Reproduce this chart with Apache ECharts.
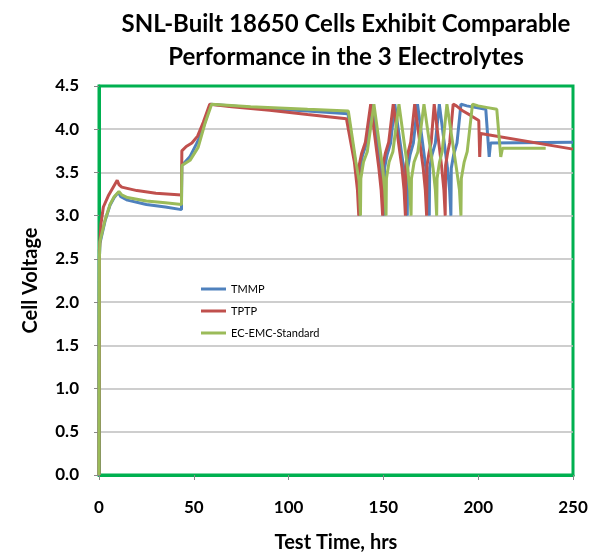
<!DOCTYPE html>
<html>
<head>
<meta charset="utf-8">
<title>SNL-Built 18650 Cells</title>
<script type="text/javascript" src="https://cdn.jsdelivr.net/npm/echarts@6/dist/echarts.min.js"></script>
<style>
	html, body { margin: 0; padding: 0; background: #fff; }
	#main { width: 596px; height: 555px; }
</style>
</head>
<body>
<div id="main"></div>
<script type="text/javascript">
	// series names, in legend order
	var seriesNames = [ 'TMMP', 'TPTP', 'EC-EMC-Standard' ];

	// [hours, volts]
	var tmmp = [
		[0, 0], [0.2, 2.5], [0.5, 2.68], [3.2, 2.94], [5.8, 3.12], [8, 3.21], [10.2, 3.27],
		[11.5, 3.22], [15, 3.18], [25, 3.13], [35, 3.10], [43.5, 3.07],
		[43.7, 3.58], [47.9, 3.68], [51.4, 3.83], [54, 3.95], [58.9, 4.29],
		[80, 4.25], [110, 4.21], [131.3, 4.18],
		[135.2, 3.62], [136.8, 3.30], [137.5, 3.0],
		[137.7, 3.55], [139.0, 3.70], [141.2, 3.84], [143.9, 4.29], [144.5, 4.29],
		[148.4, 3.55], [149.6, 3.30], [150.4, 3.0],
		[150.6, 3.55], [151.9, 3.70], [153.8, 3.84], [156.0, 4.29], [156.6, 4.29],
		[160.7, 3.55], [161.8, 3.30], [162.6, 3.0],
		[162.8, 3.55], [164.0, 3.70], [165.8, 3.84], [168.0, 4.29], [168.6, 4.29],
		[172.4, 3.55], [173.5, 3.30], [174.2, 3.0],
		[174.4, 3.55], [175.6, 3.70], [177.4, 3.84], [179.5, 4.29], [180.1, 4.29],
		[183.8, 3.55], [184.9, 3.30], [185.6, 3.0],
		[185.8, 3.55], [187.0, 3.70], [188.8, 3.84], [190.9, 4.29],
		[194, 4.27], [199, 4.25], [204, 4.23], [205.8, 3.68], [206.5, 3.84], [250, 3.85]
	];
	var tptp = [
		[0, 0], [0.2, 2.6], [1, 2.9], [2.3, 3.1], [4.9, 3.23], [7.5, 3.33], [9.6, 3.41],
		[10.5, 3.36], [12, 3.33], [20, 3.29], [30, 3.26], [43.5, 3.24],
		[43.7, 3.75], [46, 3.80], [49, 3.84], [52, 3.92], [55, 4.08], [58.4, 4.29],
		[70, 4.26], [90, 4.22], [110, 4.17], [130.5, 4.12],
		[134.7, 3.62], [136.3, 3.30], [137.0, 3.0],
		[137.2, 3.58], [138.5, 3.72], [140.5, 3.85], [143.3, 4.29], [143.9, 4.29],
		[147.6, 3.55], [148.8, 3.30], [149.6, 3.0],
		[149.8, 3.58], [151.0, 3.72], [152.8, 3.85], [155.2, 4.29], [155.8, 4.29],
		[159.8, 3.55], [160.9, 3.30], [161.6, 3.0],
		[161.8, 3.58], [162.9, 3.72], [164.4, 3.85], [166.5, 4.29], [167.1, 4.29],
		[171.0, 3.55], [172.1, 3.30], [172.8, 3.0],
		[173.0, 3.58], [174.0, 3.72], [175.2, 3.85], [176.8, 4.29], [177.3, 4.29],
		[180.8, 3.55], [181.9, 3.30], [182.6, 3.0],
		[182.8, 3.58], [183.8, 3.72], [185.0, 3.85], [186.8, 4.29],
		[188.5, 4.27], [192, 4.21], [196, 4.16], [200.3, 4.10], [200.8, 3.68], [201.3, 3.95], [250, 3.77]
	];
	var ecemc = [
		[0, 0], [0.2, 2.5], [0.5, 2.7], [3.2, 2.95], [5.8, 3.13], [8, 3.22], [10.5, 3.28],
		[12, 3.24], [15, 3.21], [25, 3.17], [35, 3.15], [43.5, 3.13],
		[43.7, 3.58], [48, 3.64], [52.3, 3.79], [55.8, 4.06], [59.4, 4.29],
		[80, 4.26], [110, 4.23], [131.5, 4.21],
		[135.5, 3.62], [137.2, 3.40], [137.9, 3.0],
		[138.1, 3.43], [139.5, 3.62], [141.5, 3.74], [145.0, 4.29], [145.6, 4.29],
		[149.6, 3.55], [150.7, 3.30], [151.4, 3.0],
		[151.6, 3.43], [153.0, 3.62], [155.0, 3.74], [158.2, 4.29], [158.8, 4.29],
		[162.8, 3.55], [163.9, 3.30], [164.6, 3.0],
		[164.8, 3.43], [166.2, 3.62], [168.2, 3.74], [171.4, 4.29], [172.0, 4.29],
		[176.2, 3.55], [177.4, 3.30], [178.1, 3.0],
		[178.3, 3.43], [179.6, 3.62], [181.0, 3.74], [183.5, 4.29], [184.1, 4.29],
		[188.5, 3.55], [190.1, 3.30], [190.9, 3.0],
		[191.1, 3.43], [192.6, 3.62], [194.2, 3.74], [197.0, 4.29],
		[200, 4.27], [205, 4.25], [209.8, 4.23], [211.9, 3.68], [212.8, 3.78], [235.6, 3.78]
	];

	var font = 'Lato, "Noto Sans", sans-serif';
	var colors = [ '#4F81BD', '#C0504D', '#9BBB59' ];

	var myChart = echarts.init(document.getElementById('main'));
	var option = {
		animation : false,
		color : colors,
		title : {
			text : 'SNL-Built 18650 Cells Exhibit Comparable\nPerformance in the 3 Electrolytes',
			left : 341,
			top : 3,
			textAlign : 'center',
			textStyle : {
				fontFamily : font,
				fontSize : 24,
				fontWeight : 'bold',
				color : '#000',
				lineHeight : 33
			}
		},
		legend : {
			data : seriesNames,
			orient : 'vertical',
			left : 196,
			top : 277,
			icon : 'rect',
			itemWidth : 25,
			itemHeight : 3,
			itemGap : 8,
			textStyle : {
				fontFamily : font,
				fontSize : 11,
				lineHeight : 14,
				color : '#000'
			}
		},
		grid : {
			left : 99,
			top : 86,
			right : 23,
			bottom : 80,
			outerBoundsMode : 'none',
			show : true,
			borderColor : '#00B050',
			borderWidth : 3
		},
		xAxis : {
			type : 'value',
			min : 0,
			max : 250,
			interval : 50,
			name : 'Test Time, hrs',
			nameLocation : 'middle',
			nameGap : 58,
			nameTextStyle : { fontFamily : font, fontSize : 20, fontWeight : 'bold', color : '#000' },
			axisLine : { show : true, lineStyle : { color : '#00B050', width : 3 } },
			axisTick : { show : true, length : 5, lineStyle : { color : '#888' } },
			axisLabel : { margin : 24, fontFamily : font, fontSize : 17, fontWeight : 'bold', color : '#000' },
			splitLine : { show : false }
		},
		yAxis : {
			type : 'value',
			min : 0,
			max : 4.5,
			interval : 0.5,
			name : 'Cell Voltage',
			nameLocation : 'middle',
			nameGap : 58,
			nameTextStyle : { fontFamily : font, fontSize : 20, fontWeight : 'bold', color : '#000' },
			axisLine : { show : true, lineStyle : { color : '#00B050', width : 3 } },
			axisTick : { show : true, length : 5, lineStyle : { color : '#888' } },
			axisLabel : {
				margin : 20,
				fontFamily : font,
				fontSize : 17,
				fontWeight : 'bold',
				color : '#000',
				formatter : function(v) { return v.toFixed(1); }
			},
			splitLine : {
				show : true,
				showMinLine : false,
				showMaxLine : false,
				lineStyle : { color : '#BEBEBE', width : 1.5 }
			}
		},
		series : [ {
			name : seriesNames[0],
			type : 'line',
			symbol : 'none',
			lineStyle : { width : 3 },
			data : tmmp
		}, {
			name : seriesNames[1],
			type : 'line',
			symbol : 'none',
			lineStyle : { width : 3 },
			data : tptp
		}, {
			name : seriesNames[2],
			type : 'line',
			symbol : 'none',
			lineStyle : { width : 3 },
			data : ecemc
		} ]
	};
	myChart.setOption(option);
</script>
</body>
</html>
